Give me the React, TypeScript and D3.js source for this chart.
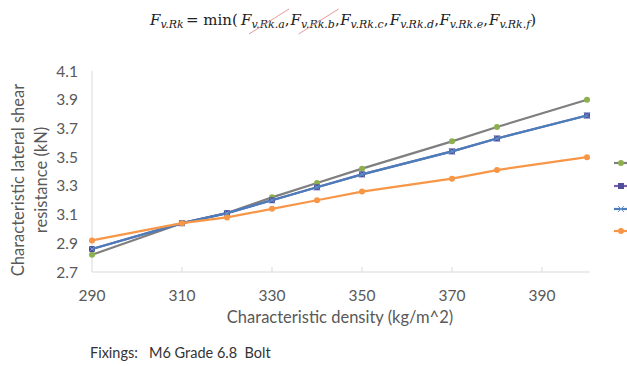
import React, { useEffect, useRef } from 'react';
import * as d3 from 'd3';

const densities = [290, 310, 320, 330, 340, 350, 370, 380, 400];
const greySeries = [2.82, 3.04, 3.11, 3.22, 3.32, 3.42, 3.61, 3.71, 3.90];
const purpleSeries = [2.86, 3.04, 3.11, 3.2, 3.29, 3.38, 3.54, 3.63, 3.79];
const blueSeries = [2.86, 3.04, 3.11, 3.2, 3.29, 3.38, 3.54, 3.63, 3.79];
const orangeSeries = [2.92, 3.04, 3.08, 3.14, 3.2, 3.26, 3.35, 3.41, 3.5];
const xTicks = [290, 310, 330, 350, 370, 390];
const yTicks = [2.7, 2.9, 3.1, 3.3, 3.5, 3.7, 3.9, 4.1];
const subs = ['a', 'b', 'c', 'd', 'e', 'f'];
const struck = ['a', 'b'];

const App = () => {
  const svgRef = useRef<SVGSVGElement>(null);

  useEffect(() => {
    const svg = d3.select(svgRef.current);
    svg.selectAll('*').remove();
    const width = 627;
    const height = 366;
    const font = 'Lato, "Liberation Sans", sans-serif';
    const serif = '"DejaVu Serif", "Liberation Serif", serif';

    const x = d3.scaleLinear().domain([290, 400]).range([92, 587]);
    const y = d3.scaleLinear().domain([2.7, 4.1]).range([272, 71]);

    svg.attr('width', width).attr('height', height);

    // formula heading
    const fTerm = (px: number, sub: string, tail: string) => {
      const t = svg.append('text')
        .attr('x', px)
        .attr('y', 25)
        .style('font-family', serif)
        .style('font-size', '15px')
        .style('fill', '#222');
      t.append('tspan').style('font-style', 'italic').text('F');
      t.append('tspan').attr('dy', 3).style('font-style', 'italic').style('font-size', '11px').text(sub);
      t.append('tspan').attr('dy', -3).text(tail);
    };
    fTerm(150, 'v.Rk', '');
    svg.append('text')
      .attr('x', 186)
      .attr('y', 25)
      .style('font-family', serif)
      .style('font-size', '15px')
      .style('fill', '#222')
      .style('white-space', 'pre')
      .text('= min(');
    const termX = d3.scalePoint<string>().domain(subs).range([241, 489]);
    subs.forEach((s, i) => fTerm(termX(s)!, 'v.Rk.' + s, i < subs.length - 1 ? ',' : ')'));

    svg.selectAll('line.strike')
      .data(struck)
      .enter()
      .append('line')
      .attr('x1', d => termX(d)! + 8).attr('y1', 34)
      .attr('x2', d => termX(d)! + 48).attr('y2', 9)
      .attr('stroke', '#e89a9a')
      .attr('stroke-width', 1);

    // axes
    svg.append('line')
      .attr('x1', x(290)).attr('x2', x(290))
      .attr('y1', y(4.1)).attr('y2', y(2.7))
      .attr('stroke', '#d9d9d9');
    svg.append('line')
      .attr('x1', x(290)).attr('x2', x(400) + 3)
      .attr('y1', y(2.7)).attr('y2', y(2.7))
      .attr('stroke', '#d9d9d9');
    svg.selectAll('line.xtick')
      .data(xTicks.slice(1))
      .enter()
      .append('line')
      .attr('x1', d => x(d)).attr('x2', d => x(d))
      .attr('y1', y(2.7) - 5).attr('y2', y(2.7))
      .attr('stroke', '#d9d9d9');

    svg.selectAll('text.xlab')
      .data(xTicks)
      .enter()
      .append('text')
      .attr('x', d => x(d))
      .attr('y', 301)
      .attr('text-anchor', 'middle')
      .style('font-family', font)
      .style('font-size', '15.5px')
      .style('fill', '#595959')
      .text(d => d);

    svg.selectAll('text.ylab')
      .data(yTicks)
      .enter()
      .append('text')
      .attr('x', 78)
      .attr('y', d => y(d) + 5.5)
      .attr('text-anchor', 'end')
      .style('font-family', font)
      .style('font-size', '15.5px')
      .style('fill', '#595959')
      .text(d => d.toFixed(1));

    svg.append('text')
      .attr('x', 340)
      .attr('y', 323)
      .attr('text-anchor', 'middle')
      .style('font-family', font)
      .style('font-size', '16.5px')
      .style('fill', '#595959')
      .text('Characteristic density (kg/m^2)');

    const yt = svg.append('text')
      .attr('transform', 'translate(24,180) rotate(-90)')
      .attr('text-anchor', 'middle')
      .style('font-family', font)
      .style('font-size', '16.5px')
      .style('fill', '#595959');
    yt.append('tspan').attr('x', 0).attr('y', 0).text('Characteristic lateral shear');
    yt.append('tspan').attr('x', 0).attr('y', 23).text('resistance (kN)');

    svg.append('text')
      .attr('x', 90)
      .attr('y', 358)
      .style('font-family', font)
      .style('font-size', '14.5px')
      .style('fill', '#333')
      .style('white-space', 'pre')
      .text('Fixings:   M6 Grade 6.8  Bolt');

    const line = d3.line<number>()
      .x((d, i) => x(densities[i]))
      .y(d => y(d));

    const series = [
      { values: greySeries, stroke: '#7f7f7f', marker: 'circle', fill: '#8db04e' },
      { values: purpleSeries, stroke: '#7e60a8', marker: 'square', fill: '#4f4f9c' },
      { values: blueSeries, stroke: '#4a7ebb', marker: 'x', fill: '#6f93cc' },
      { values: orangeSeries, stroke: '#f79646', marker: 'circle', fill: '#f79646' },
    ];

    const drawMarker = (g: any, mx: number, my: number, s: any) => {
      if (s.marker === 'circle') {
        g.append('circle').attr('cx', mx).attr('cy', my).attr('r', 3).attr('fill', s.fill);
      } else if (s.marker === 'square') {
        g.append('rect').attr('x', mx - 3).attr('y', my - 3).attr('width', 6).attr('height', 6).attr('fill', s.fill);
      } else {
        g.append('path')
          .attr('d', `M${mx - 3},${my - 3}L${mx + 3},${my + 3}M${mx - 3},${my + 3}L${mx + 3},${my - 3}`)
          .attr('stroke', s.fill).attr('stroke-width', 1);
      }
    };

    series.forEach(s => {
      const g = svg.append('g');
      g.append('path')
        .datum(s.values)
        .attr('fill', 'none')
        .attr('stroke', s.stroke)
        .attr('stroke-width', 2.2)
        .attr('d', line);
      s.values.forEach((v, i) => drawMarker(g, x(densities[i]), y(v), s));
    });

    // legend (labels fall outside the view)
    const legendY = [163, 186, 209, 231];
    series.forEach((s, i) => {
      const g = svg.append('g');
      g.append('line')
        .attr('x1', 614).attr('x2', 630)
        .attr('y1', legendY[i]).attr('y2', legendY[i])
        .attr('stroke', s.stroke).attr('stroke-width', 2.2);
      drawMarker(g, 621, legendY[i], s);
    });
  }, []);

  return (
    <div>
      <svg ref={svgRef} style={{ position: 'absolute', left: 0, top: 0 }}></svg>
    </div>
  );
};

export default App;
